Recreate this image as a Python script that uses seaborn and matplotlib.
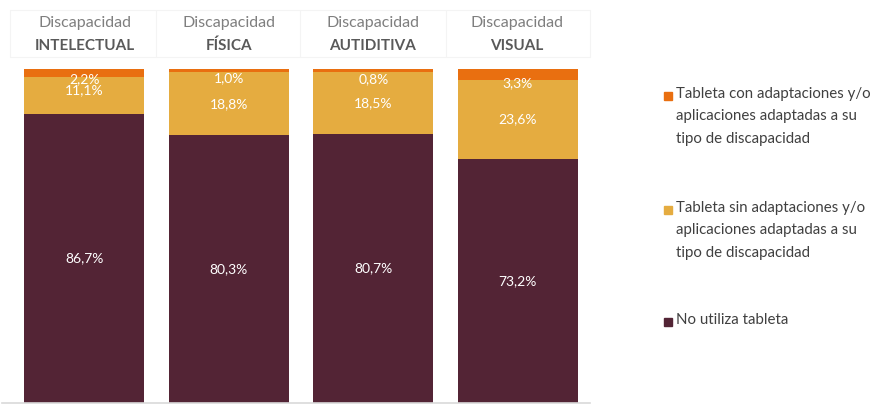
import matplotlib
matplotlib.use("Agg")
import matplotlib.pyplot as plt
from matplotlib.patches import Rectangle
import seaborn as sns
import pandas as pd
import numpy as np

categories = ["INTELECTUAL", "FÍSICA", "AUTIDITIVA", "VISUAL"]
no_utiliza = [86.7, 80.3, 80.7, 73.2]
sin_adapt = [11.1, 18.8, 18.5, 23.6]
con_adapt = [2.2, 1.0, 0.8, 3.3]
legend_labels = ["Tableta con adaptaciones y/o\naplicaciones adaptadas a su\ntipo de discapacidad",
                 "Tableta sin adaptaciones y/o\naplicaciones adaptadas a su\ntipo de discapacidad",
                 "No utiliza tableta"]

c_maroon = "#532435"
c_yellow = "#E5AC40"
c_orange = "#E96F10"

sns.set_theme(style="white")
plt.rcParams['font.family'] = ['Lato', 'DejaVu Sans']

df = pd.DataFrame({"cat": categories, "no": no_utiliza, "sin": sin_adapt, "con": con_adapt})
df["b2"] = df["no"]
df["b3"] = df["no"] + df["sin"]

fig = plt.figure(figsize=(8.72, 4.05), dpi=100)
ax = fig.add_axes([2/872, 2/405, 588/872, 334/405])

w = 0.83
sns.barplot(data=df, x="cat", y="no", color=c_maroon, width=w, ax=ax, saturation=1, linewidth=0)
sns.barplot(data=df, x="cat", y="sin", bottom=df["b2"].values, color=c_yellow, width=w, ax=ax, saturation=1, linewidth=0)
sns.barplot(data=df, x="cat", y="con", bottom=df["b3"].values, color=c_orange, width=w, ax=ax, saturation=1, linewidth=0)

ax.set_xlim(-0.57, 3.5)
ax.set_ylim(0, 100.1)
ax.set_xticks([])
ax.set_yticks([])
ax.set_xlabel("")
ax.set_ylabel("")
for s in ["top", "left", "right"]:
    ax.spines[s].set_visible(False)
ax.spines["bottom"].set_color("#d9d9d9")
ax.spines["bottom"].set_linewidth(1.2)

def fmt(v):
    return f"{v:.1f}%".replace(".", ",")

for i in range(len(categories)):
    n, s, c = no_utiliza[i], sin_adapt[i], con_adapt[i]
    tot = n + s + c
    ax.text(i, n / 2, fmt(n), color="white", ha="center", va="center", fontsize=10)
    ax.text(i, n + s / 2 + (1.5 if i == 0 else 0), fmt(s), color="white", ha="center", va="center", fontsize=10)
    ax.text(i, tot - (2.8 if i != 3 else 4.3), fmt(c), color="white", ha="center", va="center", fontsize=10)

# headers
xs = [85, 229, 373, 517]
bounds = [10, 156, 300, 446, 590]
for b in bounds:
    fig.add_artist(plt.Line2D([b/872, b/872], [1-10/405, 1-57/405], color="#f4f4f4", lw=0.8))
fig.add_artist(plt.Line2D([10/872, 590/872], [1-10/405, 1-10/405], color="#f4f4f4", lw=0.8))
fig.add_artist(plt.Line2D([10/872, 590/872], [1-57/405, 1-57/405], color="#f4f4f4", lw=0.8))
for x, cat in zip(xs, categories):
    fig.text(x/872, 1-23/405, "Discapacidad", ha="center", va="center", fontsize=11.5, color="#7f7f7f")
    fig.text(x/872, 1-46/405, cat, ha="center", va="center", fontsize=11, color="#595959", fontweight="bold")

# legend
ly = [96, 210, 322]
cols = [c_orange, c_yellow, c_maroon]
for y, lab, col in zip(ly, legend_labels, cols):
    fig.add_artist(Rectangle((664/872, 1-(y+4)/405), 8/872, 8/405, color=col, transform=fig.transFigure))
    fig.text(676/872, 1-(y-9)/405, lab, ha="left", va="top", fontsize=10.8, color="#404040", linespacing=1.75)

fig.savefig("out.png", dpi=100)
